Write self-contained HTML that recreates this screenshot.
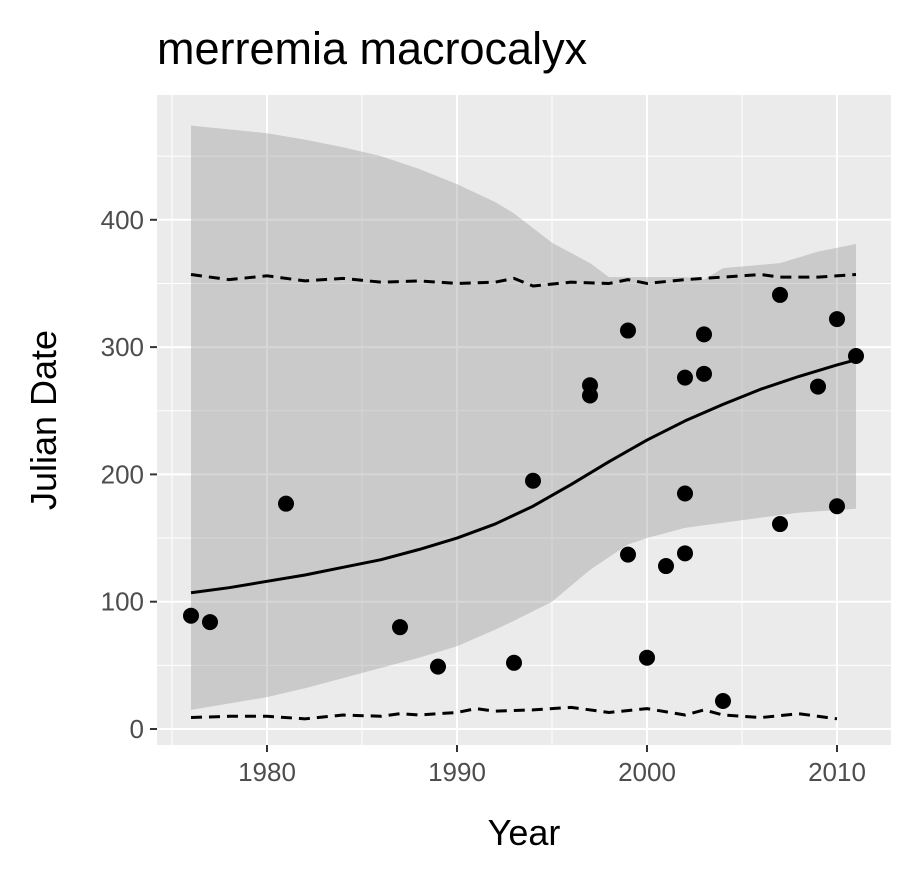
<!DOCTYPE html>
<html><head><meta charset="utf-8"><style>
body{margin:0;background:#fff;}
svg text{font-family:"Liberation Sans",Arial,sans-serif;}
</style></head><body>
<svg id="chart" width="915" height="877" xmlns="http://www.w3.org/2000/svg">
<text x="157" y="64" font-size="45" fill="#000">merremia macrocalyx</text>
<rect x="157" y="95" width="734" height="650" fill="#ebebeb"/>
<g id="grid"></g><g id="ribbon"></g><g id="lines"></g><g id="points"></g><g id="axes"></g>
<text x="524" y="845" font-size="36" text-anchor="middle" fill="#000">Year</text>
<text transform="translate(56,420) rotate(-90)" font-size="36" text-anchor="middle" fill="#000">Julian Date</text>
</svg>
<script>
const pointYears=[1976,1977,1981,1987,1989,1993,1994,1997,1997,1999,1999,2000,2001,2002,2002,2002,2003,2003,2004,2007,2007,2009,2010,2010,2011];
const pointValues=[89,84,177,80,49,52,195,270,262,313,137,56,128,276,185,138,310,279,22,341,161,269,322,175,293];
const smoothYears=[1976,1978,1980,1982,1984,1986,1988,1990,1992,1994,1996,1998,2000,2002,2004,2006,2008,2010,2011];
const smoothValues=[107,111,116,121,127,133,141,150,161,175,192,210,227,242,255,267,277,286,290];
const upperYears=[1976,1978,1980,1982,1984,1986,1988,1990,1992,1993,1995,1997,1998,2000,2002,2003,2004,2007,2009,2011];
const upperValues=[474,471,468,463,457,450,440,428,414,405,382,366,355,355,355,353,362,366,375,381];
const lowerYears=[1976,1978,1980,1982,1984,1986,1988,1990,1992,1993,1995,1997,1999,2000,2002,2004,2006,2008,2010,2011];
const lowerValues=[15,20,25,32,40,48,56,65,78,85,100,125,145,150,158,162,166,170,172,173];
const dashHiYears=[1976,1978,1980,1982,1984,1986,1988,1990,1992,1993,1994,1996,1998,1999,2000,2002,2004,2006,2007,2009,2011];
const dashHiValues=[357,353,356,352,354,351,352,350,351,354,348,351,350,353,350,353,355,357,355,355,357];
const dashLoYears=[1976,1978,1980,1982,1984,1986,1987,1988,1990,1991,1992,1994,1996,1998,2000,2002,2003,2004,2006,2008,2010];
const dashLoValues=[9,10,10,8,11,10,12,11,13,16,14,15,17,13,16,11,15,11,9,12,8];
const xTicks=[1980,1990,2000,2010];
const yTicks=[0,100,200,300,400];
const NS="http://www.w3.org/2000/svg";
const X=y=>267+(y-1980)*19;
const Y=v=>729-v*1.273;
function mk(tag,attrs,parent){const e=document.createElementNS(NS,tag);for(const k in attrs)e.setAttribute(k,attrs[k]);document.getElementById(parent).appendChild(e);return e;}
for(let yr=1975;yr<=2010;yr+=5){const e=mk('line',{x1:X(yr),x2:X(yr),y1:95,y2:745,stroke:'#fff','stroke-width':yr%10===0?2:1},'grid');

}
for(let v=0;v<=450;v+=50){const e=mk('line',{x1:157,x2:891,y1:Y(v),y2:Y(v),stroke:'#fff','stroke-width':v%100===0?2:1},'grid');

}
let d='M'+upperYears.map((y,i)=>X(y)+','+Y(upperValues[i])).join('L');
for(let i=lowerYears.length-1;i>=0;i--)d+='L'+X(lowerYears[i])+','+Y(lowerValues[i]);
const rb=mk('path',{d:d+'Z',fill:'#999','fill-opacity':0.4},'ribbon');


function line(xs,vs,name,dash){const p=mk('path',{d:'M'+xs.map((y,i)=>X(y)+','+Y(vs[i])).join('L'),fill:'none',stroke:'#000','stroke-width':3,'stroke-linejoin':'round','stroke-dasharray':dash||'none'},'lines');

}
line(smoothYears,smoothValues,'smooth-trend-line');
line(dashHiYears,dashHiValues,'upper-quantile-line','11,7');
line(dashLoYears,dashLoValues,'lower-quantile-line','11,7');
pointYears.forEach((y,i)=>{const c=mk('circle',{cx:X(y),cy:Y(pointValues[i]),r:8,fill:'#000'},'points');

});
xTicks.forEach(t=>{const l=mk('line',{x1:X(t),x2:X(t),y1:745,y2:752,stroke:'#333','stroke-width':2},'axes');


const tx=mk('text',{x:X(t),y:781,'font-size':26,'text-anchor':'middle',fill:'#4d4d4d'},'axes');tx.textContent=t;

});
yTicks.forEach(t=>{const l=mk('line',{x1:150,x2:157,y1:Y(t),y2:Y(t),stroke:'#333','stroke-width':2},'axes');


const tx=mk('text',{x:144,y:Y(t)+9,'font-size':26,'text-anchor':'end',fill:'#4d4d4d'},'axes');tx.textContent=t;

});
</script>
</body></html>
